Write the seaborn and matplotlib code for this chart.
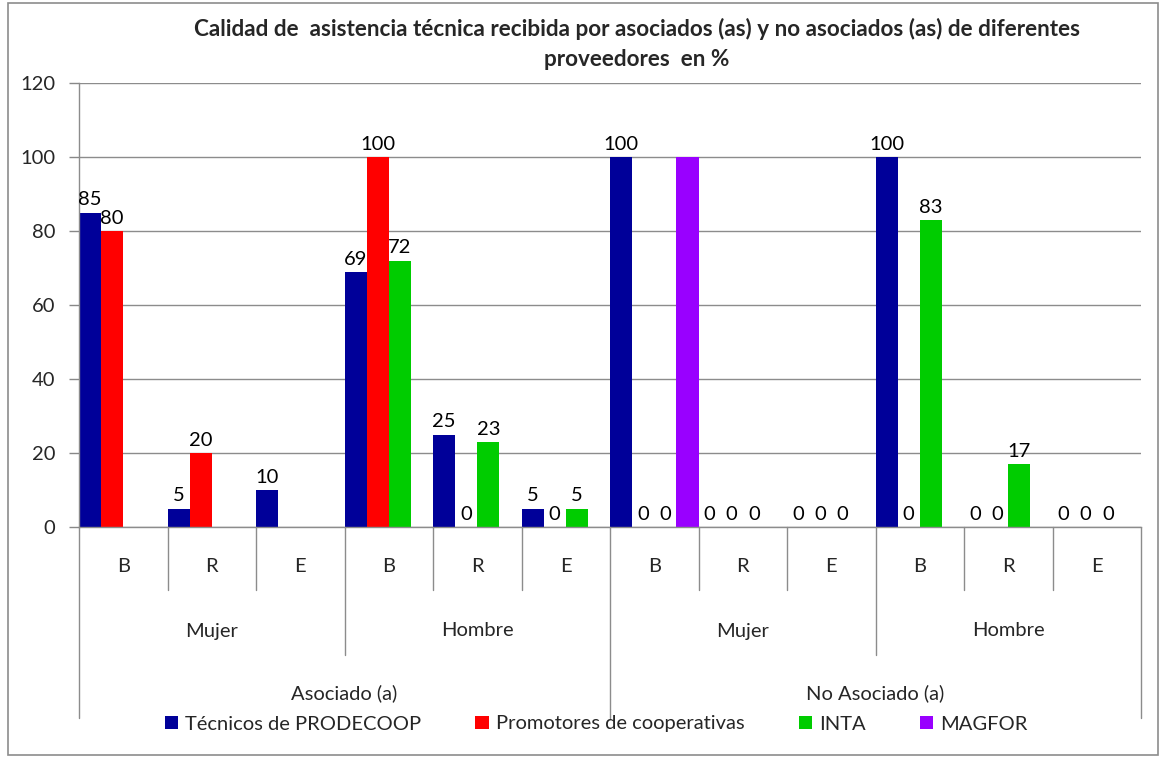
import numpy as np
import pandas as pd
import seaborn as sns
import matplotlib.pyplot as plt
from matplotlib.patches import Rectangle
from matplotlib.transforms import blended_transform_factory

# data
estados = ["Asociado (a)", "No Asociado (a)"]
sexos = ["Mujer", "Hombre"]
calidades = ["B", "R", "E"]
proveedores = [
    "Técnicos de PRODECOOP",
    "Promotores de cooperativas",
    "INTA",
    "MAGFOR",
]
# one value per (estado, sexo, calidad) in order; nan = no dato
tecnicos = [85, 5, 10, 69, 25, 5, 100, 0, 0, 100, 0, 0]
promotores = [80, 20, np.nan, 100, 0, 0, 0, 0, 0, 0, 0, 0]
inta = [np.nan, np.nan, np.nan, 72, 23, 5, 0, 0, 0, 83, 17, 0]
magfor = [np.nan, np.nan, np.nan, np.nan, np.nan, np.nan, 100, np.nan, np.nan, np.nan, np.nan, np.nan]
colores = ["#000099", "#FF0000", "#00CC00", "#9900FF"]

grupos = [f"{e}|{s}|{c}" for e in estados for s in sexos for c in calidades]
rows = []
for prov, vals in zip(proveedores, [tecnicos, promotores, inta, magfor]):
    for g, v in zip(grupos, vals):
        rows.append({"grupo": g, "proveedor": prov, "valor": v})
df = pd.DataFrame(rows)

sns.set_style("white")
plt.rcParams["font.family"] = ["Lato", "DejaVu Sans"]
fs = 14.5

fig = plt.figure(figsize=(11.67, 7.57), dpi=100)
ax = fig.add_axes([79 / 1167, 1 - 527 / 757, (1141 - 79) / 1167, (527 - 83) / 757])

sns.barplot(
    data=df.dropna(),
    x="grupo",
    y="valor",
    hue="proveedor",
    order=grupos,
    hue_order=proveedores,
    palette=colores,
    width=1.0,
    dodge=True,
    saturation=1,
    ax=ax,
    edgecolor="none",
)

# the MAGFOR series carries no data labels in the original
for cont in ax.containers[:3]:
    ax.bar_label(cont, fmt="%.0f", padding=3, fontsize=fs, color="#000000")

ax.set_xlim(-0.5, len(grupos) - 0.5)
ax.set_ylim(0, 120)
ax.set_yticks(range(0, 121, 20))
ax.tick_params(axis="y", labelsize=fs, length=7, width=1, color="#888888", pad=10, left=True)
ax.set_xticks([])
ax.set_xlabel("")
ax.set_ylabel("")
ax.grid(axis="y", color="#8c8c8c", linewidth=1)
ax.set_axisbelow(True)
for s in ["top", "right"]:
    ax.spines[s].set_visible(False)
for s in ["left", "bottom"]:
    ax.spines[s].set_color("#8c8c8c")
    ax.spines[s].set_linewidth(1)

# hierarchical category axis
trans = blended_transform_factory(ax.transData, ax.transAxes)
h = 527 - 83
line_kw = dict(color="#8c8c8c", linewidth=1, transform=trans, clip_on=False)
for i, c in enumerate(grupos):
    ax.text(i, -40 / h, c.split("|")[2], ha="center", va="center", fontsize=fs, transform=trans)
for i in range(len(grupos) + 1):
    bottom = -63 / h
    if i % 3 == 0:
        bottom = -128 / h
    if i % 6 == 0:
        bottom = -191 / h
    ax.plot([i - 0.5, i - 0.5], [0, bottom], **line_kw)
for j in range(4):
    ax.text(j * 3 + 1, -104 / h, sexos[j % 2], ha="center", va="center", fontsize=fs, transform=trans)
for j in range(2):
    ax.text(j * 6 + 2.5, -166 / h, estados[j], ha="center", va="center", fontsize=fs, transform=trans)

handles, labels = ax.get_legend_handles_labels()
ax.get_legend().remove()
fig.legend(
    handles, labels, loc="center", bbox_to_anchor=(596 / 1167, 1 - 724 / 757),
    ncol=4, frameon=False, fontsize=fs, handlelength=0.65, handleheight=0.65,
    handletextpad=0.35, columnspacing=2.7, borderpad=0,
)

fig.text(
    637 / 1167, 1 - 44 / 757,
    "Calidad de  asistencia técnica recibida por asociados (as) y no asociados (as) de diferentes\n"
    "proveedores  en %",
    ha="center", va="center", fontsize=16.2, fontweight="bold", linespacing=1.5,
)

fig.patches.append(Rectangle((8 / 1167, 2 / 757), 1150 / 1167, 752 / 757, transform=fig.transFigure,
                             fill=False, edgecolor="#8c8c8c", linewidth=1.2))

fig.savefig("out.png", dpi=100)
